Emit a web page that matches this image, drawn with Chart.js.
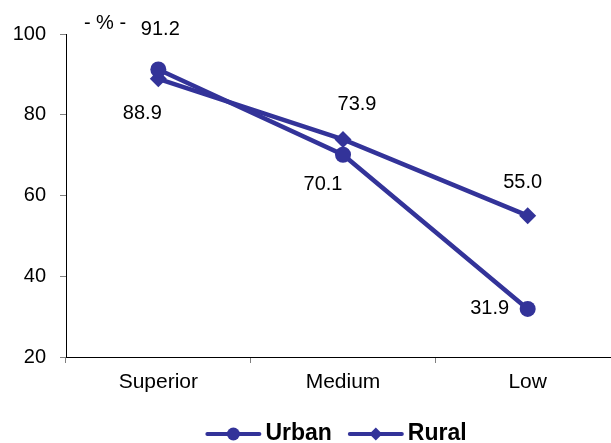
<!DOCTYPE html>
<html><head><meta charset="utf-8">
<script src="https://cdn.jsdelivr.net/npm/chart.js@4"></script>
<style>html,body{margin:0;padding:0;overflow:hidden;background:#fff}#wrap{width:611px;height:443px}</style>
</head><body><div id="wrap"><canvas id="c" width="611" height="443"></canvas></div>
<script>
const categories = ['Superior', 'Medium', 'Low'];
const urban = [91.2, 70.1, 31.9];
const rural = [88.9, 73.9, 55.0];
const yTicks = [20, 40, 60, 80, 100];
const unitLabel = '- % -';

const COLOR = '#333399';
const FONT = "'Liberation Sans', Arial, sans-serif";
const PLOT_RIGHT_OVERHANG = 9; // plot area continues past the right edge (cropped)
// label offsets (px) relative to each point
const labelOffsets = [
  [[2, -40], [-20, 30], [-38, 0]],
  [[-16, 35], [14, -35], [-5, -33]]
];

const extendPlugin = {
  id: 'extendRight',
  afterLayout(chart) {
    const x = chart.scales.x;
    const newRight = chart.width + PLOT_RIGHT_OVERHANG;
    x.right = newRight;
    x.width = newRight - x.left;
    x.configure();
    chart.chartArea.right = newRight;
    chart.chartArea.width = newRight - chart.chartArea.left;
  }
};

const labelPlugin = {
  id: 'valueLabels',
  afterDatasetsDraw(chart) {
    const ctx = chart.ctx;
    ctx.save();
    ctx.font = '20px ' + FONT;
    ctx.fillStyle = '#000';
    ctx.textAlign = 'center';
    ctx.textBaseline = 'middle';
    chart.data.datasets.forEach((ds, i) => {
      const meta = chart.getDatasetMeta(i);
      meta.data.forEach((pt, j) => {
        const off = labelOffsets[i][j];
        ctx.fillText(ds.data[j].toFixed(1), pt.x + off[0], pt.y + off[1]);
      });
    });
    const ys = chart.scales.y;
    ctx.fillText(unitLabel, chart.chartArea.left + 39, ys.getPixelForValue(100) - 11);
    ctx.restore();
  }
};

const legendPlugin = {
  id: 'lineLegend',
  afterDraw(chart) {
    const ctx = chart.ctx;
    ctx.save();
    ctx.font = 'bold 23px ' + FONT;
    const lineW = 56, gap = 4, itemGap = 16;
    const items = chart.data.datasets.map(ds => ({ label: ds.label, style: ds.pointStyle }));
    let total = 0;
    items.forEach((it, k) => {
      it.tw = ctx.measureText(it.label).width;
      total += lineW + gap + it.tw + (k < items.length - 1 ? itemGap : 0);
    });
    const cx = (chart.chartArea.left + chart.chartArea.right) / 2 - 7;
    let x = cx - total / 2;
    const y = 434;
    items.forEach(it => {
      ctx.strokeStyle = COLOR;
      ctx.lineWidth = 4;
      ctx.lineCap = 'round';
      ctx.beginPath();
      ctx.moveTo(x + 2, y);
      ctx.lineTo(x + lineW - 2, y);
      ctx.stroke();
      ctx.fillStyle = COLOR;
      const mx = x + lineW / 2;
      ctx.beginPath();
      if (it.style === 'circle') {
        ctx.arc(mx, y, 6.5, 0, Math.PI * 2);
      } else {
        ctx.moveTo(mx, y - 6.5); ctx.lineTo(mx + 6.5, y); ctx.lineTo(mx, y + 6.5); ctx.lineTo(mx - 6.5, y); ctx.closePath();
      }
      ctx.fill();
      ctx.fillStyle = '#000';
      ctx.textAlign = 'left';
      ctx.textBaseline = 'middle';
      ctx.fillText(it.label, x + lineW + gap, y);
      x += lineW + gap + it.tw + itemGap;
    });
    ctx.restore();
  }
};

new Chart(document.getElementById('c'), {
  type: 'line',
  data: {
    labels: categories,
    datasets: [
      { label: 'Urban', data: urban, borderColor: COLOR, backgroundColor: COLOR, borderWidth: 4.5,
        pointStyle: 'circle', pointRadius: 8, pointHoverRadius: 8, pointBorderWidth: 0, tension: 0 },
      { label: 'Rural', data: rural, borderColor: COLOR, backgroundColor: COLOR, borderWidth: 4.5,
        pointStyle: 'rectRot', pointRadius: 8.5, pointHoverRadius: 8.5, pointBorderWidth: 0, tension: 0 }
    ]
  },
  options: {
    responsive: false,
    animation: false,
    devicePixelRatio: 1,
    layout: { padding: { top: 34, left: 0, right: 0, bottom: 0 } },
    plugins: { legend: { display: false }, tooltip: { enabled: false } },
    scales: {
      x: {
        offset: true,
        grid: { display: true, drawOnChartArea: false, offset: true, tickLength: 6, color: '#808080' },
        border: { display: true, color: '#000', width: 1 },
        ticks: { color: '#000', font: { family: FONT, size: 21 }, padding: 7 },
        afterFit: s => { s.height = 86; }
      },
      y: {
        min: 20, max: 100,
        afterBuildTicks: s => { s.ticks = yTicks.map(v => ({ value: v })); },
        grid: { display: true, drawOnChartArea: false, tickLength: 6, color: '#808080' },
        border: { display: true, color: '#000', width: 1 },
        ticks: { color: '#000', font: { family: FONT, size: 20 }, padding: 14 },
        afterFit: s => { s.width = 66; }
      }
    }
  },
  plugins: [extendPlugin, labelPlugin, legendPlugin]
});
</script></body></html>
